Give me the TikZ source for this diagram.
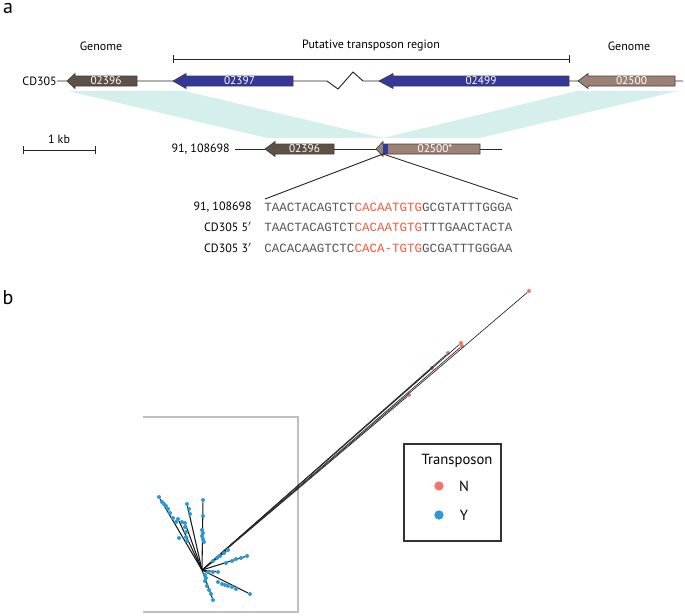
\documentclass[tikz,border=0pt]{standalone}
\usepackage{fontspec}
\setmainfont{PT Sans}
\setmonofont{Liberation Mono}
\definecolor{genedark}{HTML}{5E5246}
\definecolor{genelight}{HTML}{9C8274}
\definecolor{geneblue}{HTML}{33389A}
\definecolor{synteny}{HTML}{D5F0EC}
\definecolor{seqred}{HTML}{F15A3C}
\definecolor{seqgray}{HTML}{555555}
\definecolor{tipred}{HTML}{F4736B}
\definecolor{tipblue}{HTML}{2A9AD6}
\newcommand{\genearrow}[7]{% name, tip x, base x, end x, y, colour, label
  \draw[gene, fill=#6] (#2,#5) -- (#3,#5-7.5) -- (#3,#5-5) -- (#4,#5-5)
    -- (#4,#5+5) -- (#3,#5+5) -- (#3,#5+7.5) -- cycle;
  \node[genelabel] (#1) at ({(#3+#4)/2},#5) {#7};}
\begin{document}
\begin{tikzpicture}[x=0.75pt, y=-0.75pt,
    gene/.style={draw=black!75, line width=0.5pt},
    genelabel/.style={text=white, inner sep=0pt, font=\fontsize{8.5}{9}\selectfont},
    lbl/.style={inner sep=0pt, font=\fontsize{9}{10}\selectfont},
    panel/.style={inner sep=0pt, font=\fontsize{15}{16}\selectfont},
    seq/.style={inner sep=0pt, anchor=west, text=seqgray, font=\ttfamily\fontsize{9.4}{10}\selectfont},
    track/.style={draw=black!85, line width=0.7pt},
    branch/.style={draw=black!85, line width=0.5pt},
    ybranch/.style={draw=black!90, line width=0.8pt},
    nleaf/.style={circle, fill=tipred, inner sep=0pt, minimum size=3pt},
    yleaf/.style={circle, fill=tipblue, inner sep=0pt, minimum size=3pt}]
  \useasboundingbox (0,0) rectangle (685,615);

  % panel a
  \node[panel] (pa) at (8,8) {a};
  \node[lbl] (gl) at (101,46) {Genome};
  \node[lbl] (tr) at (371,46) {Putative transposon region};
  \node[lbl] (gr) at (629,46) {Genome};
  \draw[track] (173,55) -- (173,63);
  \draw[track] (569,55) -- (569,63);
  \draw[track] (173,59) -- (569,59);

  % synteny bands
  \fill[synteny] (68,91) -- (185,91) -- (383,138) -- (267,138) -- cycle;
  \fill[synteny] (577,91) -- (678,91) -- (480,138) -- (383,138) -- cycle;

  % CD305 track
  \node[lbl, anchor=east] (cd) at (57,81) {CD305};
  \draw[track] (cd.east) -- (327,81) -- (338,89) -- (353,72) -- (363,81) -- (683,81);
  \genearrow{g1}{67}{75}{137}{81}{genedark}{02396}
  \genearrow{g2}{173}{186}{293}{81}{geneblue}{02397}
  \genearrow{g3}{379}{393}{569}{81}{geneblue}{02499}
  \genearrow{g4}{578}{588}{675}{81}{genelight}{02500}

  % scale bar
  \node[lbl] (kb) at (59,139) {1 kb};
  \draw[track] (23,146) -- (23,154);
  \draw[track] (95,146) -- (95,154);
  \draw[track] (23,150) -- (95,150);

  % 91, 108698 track
  \node[lbl, anchor=east] (st) at (230,149) {91, 108698};
  \draw[track] (235,149) -- (502,149);
  \genearrow{h1}{265}{275}{334}{149}{genedark}{02396}
  \genearrow{h2}{376}{383}{480}{149}{genelight}{}
  \fill[geneblue] (383,144) rectangle (388,154);
  \node[genelabel] (h2l) at (435,149) {02500*};
  \coordinate (ins) at (383,154);

  % sequences
  \node[lbl, anchor=east] (r1) at (252,207) {91, 108698};
  \node[lbl, anchor=east] (r2) at (252,227) {CD305 5$'$};
  \node[lbl, anchor=east] (r3) at (252,248) {CD305 3$'$};
  \node[seq] (s1) at (264,207) {TAACTACAGTCT\textcolor{seqred}{CACAATGTG}GCGTATTTGGGA};
  \node[seq] (s2) at (264,227) {TAACTACAGTCT\textcolor{seqred}{CACAATGTG}TTTGAACTACTA};
  \node[seq] (s3) at (264,248) {CACACAAGTCTC\textcolor{seqred}{CACA-TGTG}GCGATTTGGGAA};
  \coordinate (zl) at (265,199);
  \coordinate (zr) at (518,199);
  \draw[track] (zl) -- (ins) -- (zr);

  % panel b
  \node[panel] (pb) at (8,298) {b};
  \draw[black!25, line width=0.8pt] (143,417) -- (298,417) -- (298,612) -- (143,612);
  \coordinate (hub) at (202,570);

  % N tips
  \foreach \x/\y [count=\i] in {529/291, 461/343, 462/346, 448/353, 432/368, 409/395}
    \node[nleaf] (n\i) at (\x,\y) {};
  \foreach \i in {1,...,6}
    \draw[branch] (hub) -- (n\i);

  % Y tips
  \foreach \x/\y [count=\i] in {159/497, 187/504, 203/500, 178/519, 185/523,
      247/556, 250/594, 213/600, 218/572, 228/550}
    \node[yleaf] (y\i) at (\x,\y) {};
  \foreach \i in {1,...,10}
    \draw[ybranch] (hub) -- (y\i);

  % Y nodes along branches
  \foreach \x/\y [count=\i] in {162/502, 164/504, 166/506, 168/509, 170/513, 173/518, 176/522,
      189/509, 190/514, 203/516, 202/530, 203/533, 202/536, 203/539, 204/542,
      182/522, 185/527, 186/532, 186/537, 187/541, 179/538,
      213/561, 217/558, 220/556, 224/553,
      241/558, 236/559, 232/561, 226/563,
      208/572, 213/572, 205/575, 206/578,
      218/582, 222/584, 225/585, 228/586, 232/587, 236/589,
      205/581, 207/586, 209/590, 211/594}
    \node[yleaf] (m\i) at (\x,\y) {};

  % legend
  \draw[black!80, line width=0.8pt] (404,444) rectangle (501,541);
  \node[inner sep=0pt, font=\fontsize{11}{12}\selectfont] (lt) at (457,461) {Transposon};
  \node[circle, fill=tipred, inner sep=0pt, minimum size=7pt] (ln) at (439,486) {};
  \node[inner sep=0pt, font=\fontsize{11}{12}\selectfont] (lnt) at (464,486) {N};
  \node[circle, fill=tipblue, inner sep=0pt, minimum size=7pt] (ly) at (439,515) {};
  \node[inner sep=0pt, font=\fontsize{11}{12}\selectfont] (lyt) at (464,515) {Y};
\end{tikzpicture}
\end{document}
